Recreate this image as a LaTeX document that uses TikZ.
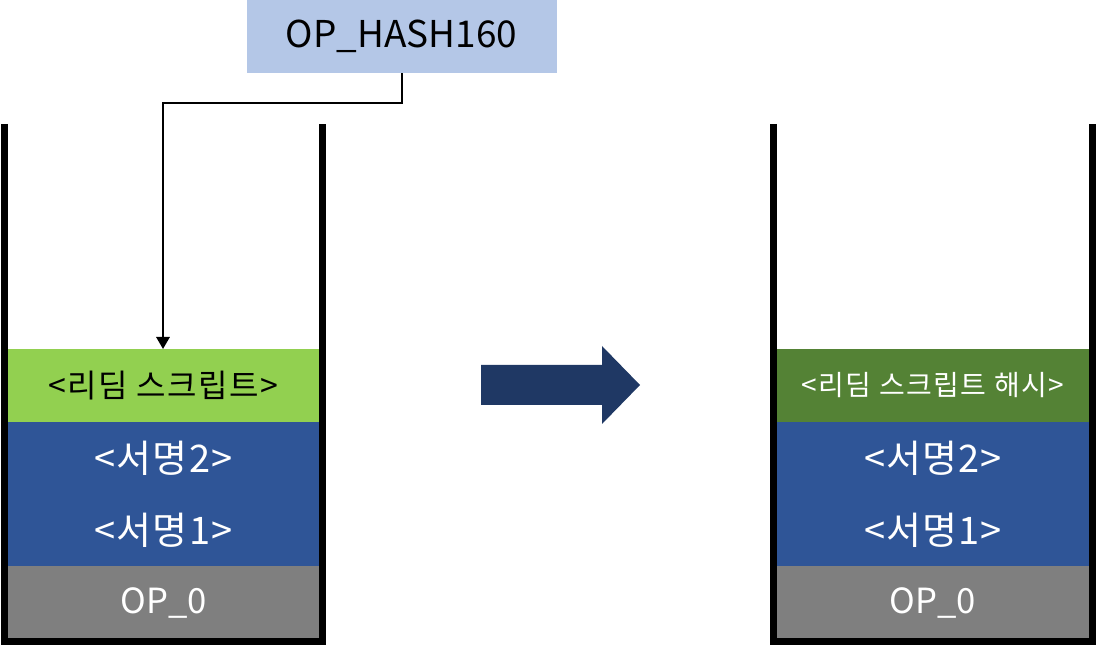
\documentclass[tikz,border=0pt]{standalone}
\usepackage{fontspec}
\setmainfont{Noto Sans CJK KR}
\usetikzlibrary{arrows.meta}
\definecolor{hashblue}{HTML}{B4C7E7}
\definecolor{redeemgreen}{HTML}{92D050}
\definecolor{hashgreen}{HTML}{548235}
\definecolor{sigblue}{HTML}{2F5597}
\definecolor{opgray}{HTML}{7F7F7F}
\definecolor{bigarrow}{HTML}{1F3864}
\tikzset{
  block/.style={inner sep=0pt, outer sep=0pt, minimum width=234pt, minimum height=54pt, font=\fontsize{26}{30}\selectfont, text=white},
  sigtext/.style={font=\fontsize{28.5}{32}\selectfont\addfontfeature{LetterSpace=3}},
  wall/.style={line width=5.25pt, line join=miter, draw=black},
  conn/.style={line width=1.5pt, draw=black, -{Triangle[length=9pt,width=10pt]}},
  opbox/.style={fill=hashblue, inner sep=0pt, minimum width=232.5pt, minimum height=54.75pt, font=\fontsize{27.7}{31}\selectfont}
}
\begin{document}
\begin{tikzpicture}[x=0.75pt,y=-0.75pt]
\useasboundingbox (0,0) rectangle (1096,648);
% top operation box
\node[opbox] (hash) at (401.5,36.5) {OP\_HASH160};
% left stack
\node[block, fill=redeemgreen, text=black, minimum height=54.75pt, font=\fontsize{24}{26}\selectfont\addfontfeature{LetterSpace=4.5}] (lred) at (163.5,385.5) {<리딤 스크립트>};
\node[block, fill=sigblue, sigtext] (lsig2) at (163.5,458) {<서명2>};
\node[block, fill=sigblue, sigtext] (lsig1) at (163.5,530) {<서명1>};
\node[block, fill=opgray, minimum height=54.75pt] (lop) at (163.5,602.5) {OP\_0};
\draw[wall] (4,124) -- (4,641.5) -- (322.5,641.5) -- (322.5,124);
% right stack
\node[block, fill=hashgreen, minimum height=54.75pt, font=\fontsize{21}{23}\selectfont\addfontfeature{LetterSpace=5}] (rred) at (933,385.5) {<리딤 스크립트 해시>};
\node[block, fill=sigblue, sigtext] (rsig2) at (933,458) {<서명2>};
\node[block, fill=sigblue, sigtext] (rsig1) at (933,530) {<서명1>};
\node[block, fill=opgray, minimum height=54.75pt] (rop) at (933,602.5) {OP\_0};
\draw[wall] (773.5,124) -- (773.5,641.5) -- (1092.5,641.5) -- (1092.5,124);
% connector
\coordinate (bend) at (163,103);
\draw[conn] (hash.south) |- (bend) -- (bend |- lred.north);
% big arrow
\fill[bigarrow] (481,365) -- (602,365) -- (602,346) -- (640,385) -- (602,424) -- (602,405) -- (481,405) -- cycle;
\end{tikzpicture}
\end{document}
